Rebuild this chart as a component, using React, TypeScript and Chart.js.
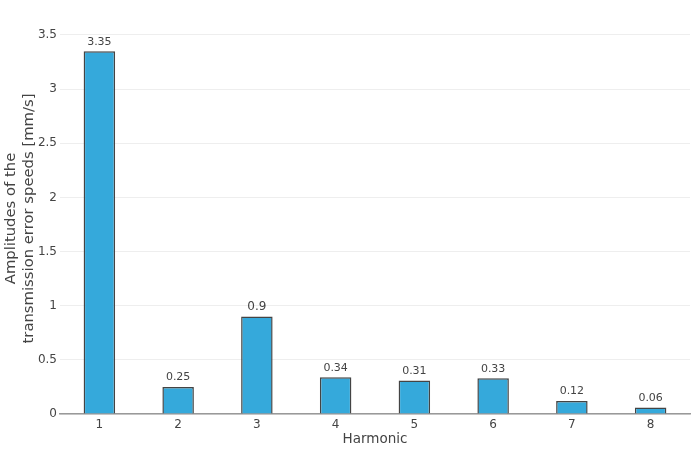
import React, { useEffect, useRef } from "react";
import { Chart, registerables } from "chart.js";

Chart.register(...registerables);

const harmonics: string[] = ["1", "2", "3", "4", "5", "6", "7", "8"];
const amplitudes: number[] = [3.35, 0.25, 0.9, 0.34, 0.31, 0.33, 0.12, 0.06];
const yTicks: number[] = [0, 0.5, 1, 1.5, 2, 2.5, 3, 3.5];
const yMax = 3.61;

const FONT = "'DejaVu Sans', Verdana, sans-serif";
const TEXT = "#444";

const barLabels = {
  id: "barLabels",
  afterDatasetsDraw(chart: any) {
    const ctx = chart.ctx;
    const meta = chart.getDatasetMeta(0);
    ctx.save();
    ctx.fillStyle = TEXT;
    ctx.textAlign = "center";
    ctx.textBaseline = "bottom";
    meta.data.forEach((el: any, i: number) => {
      const text = String(amplitudes[i]);
      let size = 12;
      ctx.font = `${size}px ${FONT}`;
      const w = ctx.measureText(text).width;
      const limit = el.width - 7;
      if (w > limit) size = (size * limit) / w;
      ctx.font = `${size}px ${FONT}`;
      ctx.fillText(text, el.x, el.y - 4);
    });
    ctx.restore();
  },
};

export default function App() {
  const ref = useRef<HTMLCanvasElement | null>(null);
  useEffect(() => {
    document.body.style.margin = "0";
    const chart = new Chart(ref.current as HTMLCanvasElement, {
      type: "bar",
      data: {
        labels: harmonics,
        datasets: [
          {
            data: amplitudes,
            backgroundColor: "#35a9db",
            borderColor: "#444",
            borderWidth: 1.5,
            barPercentage: 0.4,
            categoryPercentage: 1,
          },
        ],
      },
      options: {
        responsive: false,
        animation: false,
        devicePixelRatio: 1,
        layout: { padding: { top: 23, right: 10, left: 0, bottom: 0 } },
        plugins: { legend: { display: false }, tooltip: { enabled: false } },
        scales: {
          x: {
            grid: { display: false, drawTicks: false },
            border: { display: true, color: "#999", width: 1.5 },
            ticks: { color: TEXT, font: { family: FONT, size: 12 }, padding: 4 },
            title: {
              display: true,
              text: "Harmonic",
              color: TEXT,
              font: { family: FONT, size: 13.5 },
              padding: { top: 0, bottom: 2 },
            },
            afterFit(scale: any) {
              scale.height = 36;
            },
          },
          y: {
            min: 0,
            max: yMax,
            afterBuildTicks(scale: any) {
              scale.ticks = yTicks.map((v) => ({ value: v }));
            },
            grid: { color: "#eee", drawTicks: false, lineWidth: 1 },
            border: { display: false },
            ticks: {
              color: TEXT,
              font: { family: FONT, size: 12 },
              padding: 3,
              callback: (v: any) => String(Number(v)),
            },
            title: {
              display: true,
              text: ["Amplitudes of the", "transmission error speeds [mm/s]"],
              color: TEXT,
              font: { family: FONT, size: 14.8, lineHeight: 1.22 },
              padding: { top: 2, bottom: 0 },
            },
            afterFit(scale: any) {
              scale.width = 60;
            },
          },
        },
      },
      plugins: [barLabels],
    });
    return () => chart.destroy();
  }, []);
  return (
    <div style={{ position: "absolute", left: 0, top: 0, width: 700, height: 450 }}>
      <canvas ref={ref} width={700} height={450} />
    </div>
  );
}
